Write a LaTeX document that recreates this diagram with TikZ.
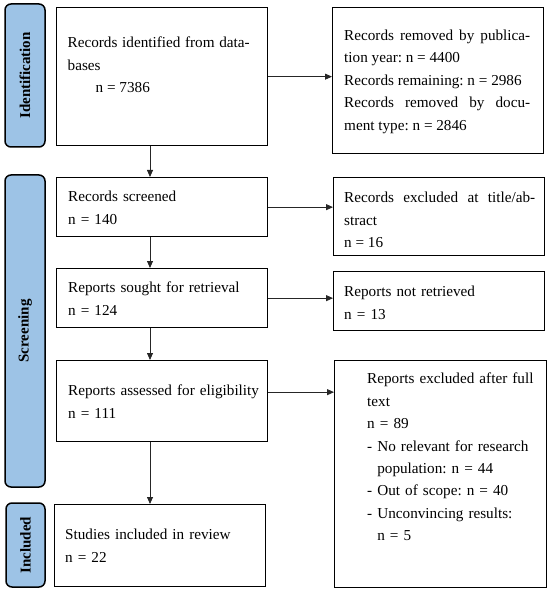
\documentclass[tikz,border=0pt]{standalone}
\usepackage{fontspec}
\setmainfont{Liberation Serif}
\usetikzlibrary{arrows.meta}
\definecolor{sidefill}{RGB}{157,195,230}
\frenchspacing
\begin{document}
\begin{tikzpicture}[x=1pt,y=-1pt,
  flowbox/.style={draw=black, line width=1.3pt, inner sep=0pt, anchor=north west},
  boxtext/.style={inner sep=0pt, anchor=north west, font=\fontsize{15.2}{22.4}\selectfont\frenchspacing},
  sidelabel/.style={draw=black, line width=1.5pt, fill=sidefill, rounded corners=6pt, rotate=90, inner sep=0pt, font=\fontsize{15}{17}\selectfont\bfseries},
  flowarrow/.style={draw=black!85, line width=0.8pt, -{Triangle[length=7pt,width=6pt]}}]
\useasboundingbox (0,0) rectangle (550,593);

% phase labels
\node[sidelabel, minimum width=143pt, minimum height=40pt] (sid) at (25,75.5) {Identification};
\node[sidelabel, minimum width=312pt, minimum height=40pt] (sscr) at (25,331) {Screening};
\node[sidelabel, minimum width=84pt, minimum height=39pt] (sinc) at (25.5,545) {Included};

% boxes
\node[flowbox, minimum width=211pt, minimum height=138pt] (b1) at (56,7) {};
\node[flowbox, minimum width=211pt, minimum height=59pt] (scr) at (56,177) {};
\node[flowbox, minimum width=211pt, minimum height=59pt] (sgt) at (56,268) {};
\node[flowbox, minimum width=211pt, minimum height=81pt] (asd) at (56,360) {};
\node[flowbox, minimum width=211pt, minimum height=82pt] (inc) at (54,504) {};
\node[flowbox, minimum width=211pt, minimum height=146pt] (r1) at (332,7) {};
\node[flowbox, minimum width=211pt, minimum height=78pt] (r2) at (333,177) {};
\node[flowbox, minimum width=211pt, minimum height=59pt] (r3) at (333,271) {};
\node[flowbox, minimum width=212pt, minimum height=227pt] (r4) at (334,360) {};

% texts
\node[boxtext, text width=182pt, align=justify] (t1) at (67.5,36.8) {Records identified from data-\linebreak bases\\ \hspace*{28pt}n = 7386};
\node[boxtext, text width=190pt, align=left] (tscr) at (68,191) {Records screened\\ n = 140};
\node[boxtext, text width=190pt, align=left] (tsgt) at (68,282) {Reports sought for retrieval\\ n = 124};
\node[boxtext, text width=195pt, align=left] (tasd) at (68,385) {Reports assessed for eligibility\\ n = 111};
\node[boxtext, text width=190pt, align=left] (tinc) at (65,529) {Studies included in review\\ n = 22};
\node[boxtext, text width=186pt, align=justify] (tr1) at (344,29.8) {Records removed by publica-\linebreak tion year: n = 4400\\ Records remaining: n = 2986\\ Records removed by docu-\linebreak ment type: n = 2846};
\node[boxtext, text width=191pt, align=justify] (tr2) at (344,192) {Records excluded at title/ab-\linebreak stract\\ n = 16};
\node[boxtext, text width=190pt, align=left] (tr3) at (344,286) {Reports not retrieved\\ n = 13};
\node[boxtext, text width=175pt, align=left] (tr4) at (367,373) {Reports excluded after full\\ text\\ n = 89\\ - No relevant for research\\ \hphantom{-\ }population: n = 44\\ - Out of scope: n = 40\\ - Unconvincing results:\\ \hphantom{-\ }n = 5};

% connectors
\coordinate (ax) at (150,0);
\draw[flowarrow] (b1.south -| ax) -- (scr.north -| ax);
\draw[flowarrow] (scr.south -| ax) -- (sgt.north -| ax);
\draw[flowarrow] (sgt.south -| ax) -- (asd.north -| ax);
\draw[flowarrow] (asd.south -| ax) -- (inc.north -| ax);
\draw[flowarrow] (b1.east) -- (b1.east -| r1.west);
\draw[flowarrow] (scr.east) -- (scr.east -| r2.west);
\draw[flowarrow] (sgt.east) -- (sgt.east -| r3.west);
\draw[flowarrow] ([yshift=9pt]asd.east) -- ([yshift=9pt]asd.east -| r4.west);
\end{tikzpicture}
\end{document}
